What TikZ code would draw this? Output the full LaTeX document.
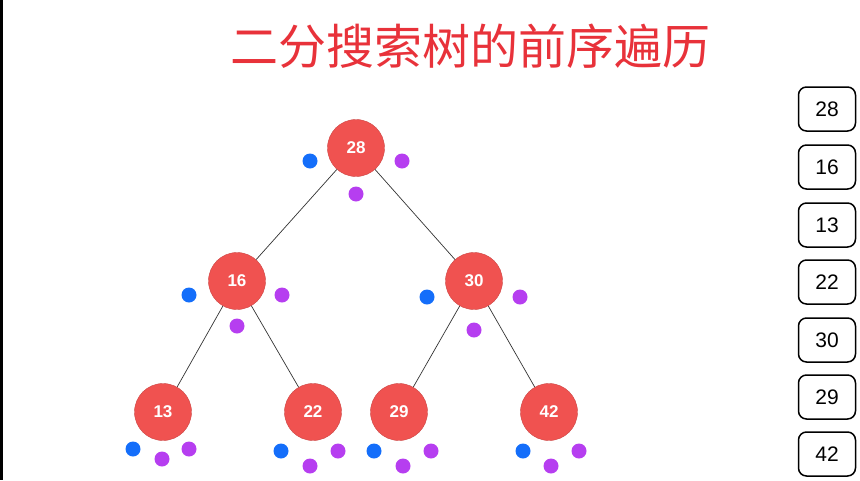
\documentclass[tikz,border=0pt]{standalone}
\usepackage{fontspec}
\setmainfont{Liberation Sans}
\newfontfamily\cjk{Noto Sans CJK SC}
\usepackage{tikz}
\definecolor{nodered}{RGB}{240,82,80}
\definecolor{titlered}{RGB}{232,50,58}
\definecolor{dotblue}{RGB}{20,110,250}
\definecolor{dotpurple}{RGB}{182,62,240}

\begin{document}
\begin{tikzpicture}[x=1pt, y=-1pt,
    tnode/.style={circle, fill=nodered, draw=nodered!85!black, line width=0.4pt, minimum size=57pt, inner sep=0pt, text=white, font=\fontsize{17}{17}\selectfont\bfseries},
    bdot/.style={circle, fill=dotblue, minimum size=15pt, inner sep=0pt},
    pdot/.style={circle, fill=dotpurple, minimum size=15pt, inner sep=0pt},
    stackbox/.style={draw, rounded corners=8pt, line width=1.5pt, minimum width=57pt, minimum height=44pt, font=\fontsize{21}{21}\selectfont},
    edge/.style={draw=black!80, line width=0.7pt},
]
    \useasboundingbox (0,0) rectangle (860,480);
    \fill[black] (0,0) rectangle (3,480);

    \node[text=titlered, font=\cjk\fontsize{48}{48}\selectfont] (title) at (470,46) {二分搜索树的前序遍历};

    % tree
    \node[tnode] (n28) at (356,148) {28};
    \node[tnode] (n16) at (237,281) {16};
    \node[tnode] (n30) at (474,281) {30};
    \node[tnode] (n13) at (163,412) {13};
    \node[tnode] (n22) at (313,412) {22};
    \node[tnode] (n29) at (399,412) {29};
    \node[tnode] (n42) at (549,412) {42};

    \path[edge] (n28) -- (n16);
    \path[edge] (n28) -- (n30);
    \path[edge] (n16) -- (n13);
    \path[edge] (n16) -- (n22);
    \path[edge] (n30) -- (n29);
    \path[edge] (n30) -- (n42);

    % dots
    \node[bdot] (b28) at (310,161) {};
    \node[pdot] (r28) at (402,161) {};
    \node[pdot] (m28) at (356,194) {};
    \node[bdot] (b16) at (189,295) {};
    \node[pdot] (r16) at (282,295) {};
    \node[pdot] (m16) at (237,326) {};
    \node[bdot] (b30) at (427,297) {};
    \node[pdot] (r30) at (520,297) {};
    \node[pdot] (m30) at (474,330) {};
    \node[bdot] (b13) at (133,449) {};
    \node[pdot] (m13) at (162,459) {};
    \node[pdot] (r13) at (189,449) {};
    \node[bdot] (b22) at (281,451) {};
    \node[pdot] (m22) at (310,466) {};
    \node[pdot] (r22) at (338,451) {};
    \node[bdot] (b29) at (374,451) {};
    \node[pdot] (m29) at (403,466) {};
    \node[pdot] (r29) at (431,451) {};
    \node[bdot] (b42) at (523,451) {};
    \node[pdot] (m42) at (551,466) {};
    \node[pdot] (r42) at (579,451) {};

    % output order
    \node[stackbox] (s1) at (827,109) {28};
    \node[stackbox] (s2) at (827,167) {16};
    \node[stackbox] (s3) at (827,225) {13};
    \node[stackbox] (s4) at (827,282) {22};
    \node[stackbox] (s5) at (827,340) {30};
    \node[stackbox] (s6) at (827,397) {29};
    \node[stackbox] (s7) at (827,454) {42};
\end{tikzpicture}
\end{document}
